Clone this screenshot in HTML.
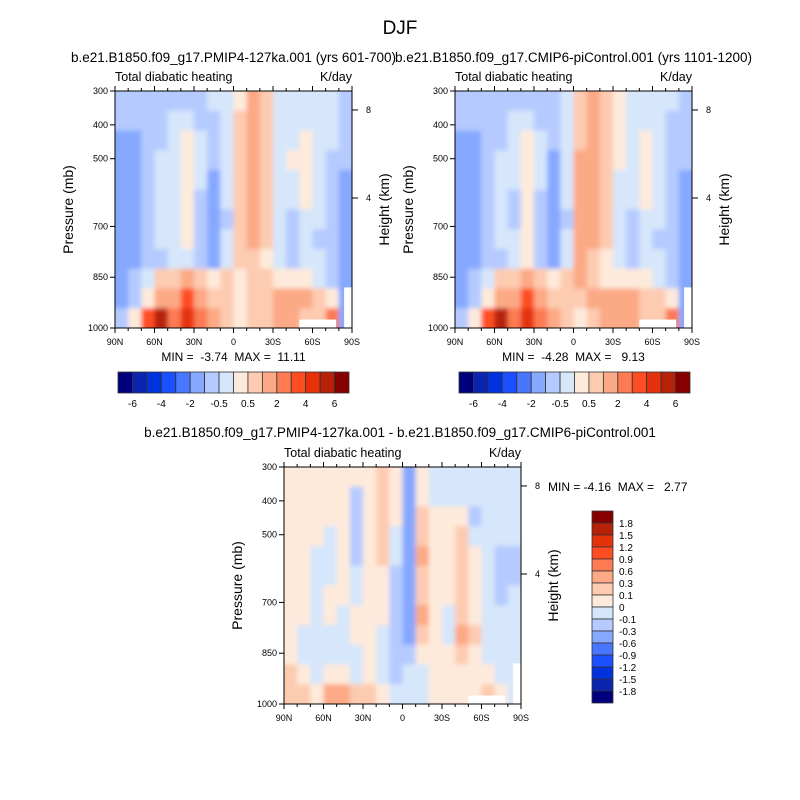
<!DOCTYPE html>
<html><head><meta charset="utf-8"><style>
body{margin:0;background:#fff}
svg{display:block;font-family:"Liberation Sans",sans-serif}
text{white-space:pre}
</style></head><body>
<svg id="fig" width="800" height="800" viewBox="0 0 800 800">
<defs><filter id="soft" x="-5%" y="-5%" width="110%" height="110%"><feGaussianBlur stdDeviation="2.5"/></filter></defs>
<rect width="800" height="800" fill="#fff"/>
<text x="400" y="34" font-size="19" text-anchor="middle">DJF</text>
<g id="panels"></g>
</svg>
<script>
const colors=["#00007f","#0a24b0","#0033dd","#1a50ff","#4876ff","#86a8ff","#b5cbff","#d6e6fb","#feeadb","#fdcbb0","#fca985","#fd7a52","#fe4d22","#e5320a","#b52208","#870000"];
const levelsFull=[-6,-5,-4,-3,-2,-1,-0.5,0,0.5,1,2,3,4,5,6];
const levelsDiff=[-1.8,-1.5,-1.2,-0.9,-0.6,-0.3,-0.1,0,0.1,0.3,0.6,0.9,1.2,1.5,1.8];
const latLabels=["90N","60N","30N","0","30S","60S","90S"];
const pLabels=[300,400,500,700,850,1000];
const hLabels=[8,4];
const hPressure=[356,616];
const fullCbLabels=["-6","-4","-2","-0.5","0.5","2","4","6"];
const diffCbLabels=["1.8","1.5","1.2","0.9","0.6","0.3","0.1","0","-0.1","-0.3","-0.6","-0.9","-1.2","-1.5","-1.8"];

const gridLeft=[
[-0.7,-0.7,-0.7,-0.7,-0.7,-0.7,-0.7,-0.3,-0.3,0.3,1.5,0.7,-0.3,-0.3,-0.3,-0.3,-0.3,-0.7],
[-0.7,-0.7,-0.7,-0.7,-0.3,-0.3,-0.7,-0.7,-0.3,0.7,1.5,0.7,-0.3,-0.3,-0.3,-0.3,-0.3,-0.7],
[-1.5,-1.5,-0.7,-0.7,-0.3,0.3,-0.3,-0.7,-0.3,0.7,1.5,0.7,-0.3,-0.3,0.3,-0.3,-0.3,-0.7],
[-1.5,-1.5,-0.7,-0.3,-0.3,0.3,-0.3,-0.7,-0.3,0.7,1.5,0.7,-0.3,0.3,0.3,-0.3,-0.7,-0.7],
[-1.5,-1.5,-0.7,-0.3,-0.3,0.3,-0.3,-1.5,-0.3,0.7,1.5,0.7,-0.3,-0.3,0.3,-0.3,-0.7,-1.5],
[-1.5,-1.5,-0.7,-0.3,-0.3,0.3,-0.7,-1.5,-0.3,0.7,1.5,0.7,-0.3,-0.3,0.3,-0.3,-0.7,-1.5],
[-1.5,-1.5,-0.7,-0.3,-0.3,0.3,-0.7,-1.5,-0.7,0.7,1.5,0.7,-0.3,-0.7,-0.3,-0.3,-0.7,-1.5],
[-1.5,-1.5,-0.7,-0.3,-0.3,0.3,-0.7,-1.5,-0.3,0.7,1.5,0.7,-0.3,-0.7,-0.3,-0.7,-0.7,-1.5],
[-1.5,-1.5,-0.7,-0.7,-0.3,-0.3,-0.7,-1.5,-0.3,0.7,0.7,0.3,-0.3,-0.7,-0.3,-0.3,-0.7,-1.5],
[-1.5,-0.7,-0.3,0.7,0.7,1.5,0.7,0.3,0.7,0.3,0.7,0.7,0.3,0.3,0.3,-0.3,-0.7,-1.5],
[-1.5,-0.7,0.3,1.5,1.5,3.5,1.5,0.7,0.7,0.3,0.7,0.7,1.5,1.5,1.5,0.7,0.3,-1.5],
[-0.7,0.3,3.5,5.5,2.5,4.5,2.5,1.5,0.7,0.3,0.7,0.7,1.5,1.5,0.7,0.7,2.5,-1.5]];
const gridRight=[
[-0.7,-0.7,-0.7,-0.7,-0.7,-0.7,-0.7,-0.7,-0.3,0.7,1.5,0.7,0.3,-0.3,-0.3,-0.3,-0.3,-0.7],
[-0.7,-0.7,-0.7,-0.7,-0.3,-0.3,-0.7,-0.7,-0.3,0.7,1.5,0.7,0.3,-0.3,-0.3,-0.3,-0.7,-0.7],
[-1.5,-1.5,-0.7,-0.7,-0.3,0.3,-0.3,-0.7,-0.3,0.7,1.5,0.7,0.3,-0.3,0.3,-0.3,-0.7,-0.7],
[-1.5,-1.5,-0.7,-0.3,-0.3,0.3,-0.3,-1.5,-0.3,1.5,1.5,0.7,0.3,-0.3,0.3,-0.3,-0.7,-0.7],
[-1.5,-1.5,-0.7,-0.3,-0.3,0.3,-0.3,-1.5,-0.3,1.5,1.5,0.7,-0.3,-0.3,0.3,-0.3,-0.7,-1.5],
[-1.5,-1.5,-0.7,-0.3,-0.7,0.3,-0.7,-1.5,-0.3,1.5,1.5,0.7,-0.3,-0.3,0.3,-0.3,-0.7,-1.5],
[-1.5,-1.5,-0.7,-0.3,-0.7,0.3,-0.7,-1.5,-0.7,1.5,1.5,0.7,-0.3,-0.7,-0.3,-0.3,-0.7,-1.5],
[-1.5,-1.5,-0.7,-0.3,-0.3,0.3,-0.7,-1.5,-0.3,1.5,1.5,0.7,-0.3,-0.7,-0.3,-0.7,-0.7,-1.5],
[-1.5,-1.5,-0.7,-0.7,-0.3,0.3,-0.7,-1.5,-0.3,1.5,0.7,0.3,-0.3,-0.7,-0.3,-0.3,-0.7,-1.5],
[-1.5,-0.7,-0.3,0.7,0.7,1.5,0.7,0.3,0.7,1.5,0.7,0.3,0.3,0.3,0.3,-0.3,-0.7,-1.5],
[-1.5,-0.7,0.3,1.5,1.5,3.5,1.5,0.7,0.7,0.7,1.5,1.5,1.5,1.5,0.7,0.7,0.3,-1.5],
[-0.7,0.3,3.5,5.5,2.5,4.5,2.5,1.5,0.7,0.3,0.7,1.5,1.5,1.5,0.7,0.7,2.5,-1.5]];
const gridDiff=[
[0.05,0.05,0.05,0.05,0.05,0.05,0.05,0.2,0.05,-0.4,0.05,-0.05,-0.05,-0.05,-0.05,-0.05,-0.05,-0.05],
[0.05,0.05,0.05,0.05,0.05,-0.2,0.05,0.2,0.05,-0.4,0.05,-0.05,-0.05,-0.05,-0.05,-0.05,-0.05,-0.05],
[0.05,0.05,0.05,0.05,0.05,-0.2,0.05,0.2,0.05,-0.4,0.2,0.05,0.05,0.05,-0.2,-0.05,-0.05,-0.05],
[0.05,0.05,0.05,-0.05,0.05,-0.2,0.05,0.2,-0.05,-0.4,0.2,0.05,0.05,0.2,-0.05,-0.05,-0.05,-0.05],
[0.05,0.05,-0.05,-0.05,0.05,-0.2,0.05,0.2,-0.05,-0.4,0.45,0.05,0.05,0.2,0.05,-0.05,-0.2,-0.2],
[0.05,0.05,-0.05,-0.05,0.05,-0.05,0.05,0.05,-0.2,-0.4,0.2,0.05,0.05,0.2,0.05,-0.05,-0.2,-0.2],
[0.05,0.05,-0.05,0.05,0.05,-0.05,0.05,0.05,-0.2,-0.4,0.2,0.05,0.05,0.2,0.05,-0.05,-0.2,-0.05],
[0.05,0.05,-0.05,0.05,-0.05,0.05,0.05,0.05,-0.2,-0.4,0.45,0.05,-0.05,0.2,0.05,-0.05,-0.05,-0.05],
[0.05,-0.05,-0.05,-0.05,-0.05,0.05,0.05,-0.05,-0.2,-0.4,0.2,0.05,-0.05,0.45,0.2,-0.05,-0.05,-0.05],
[0.05,-0.05,-0.05,-0.05,-0.05,-0.05,0.05,-0.05,-0.2,-0.2,0.05,0.05,0.05,0.2,0.05,-0.05,-0.05,-0.05],
[0.2,0.05,-0.05,0.05,0.05,-0.05,0.05,-0.05,-0.2,-0.05,-0.05,0.05,0.05,0.05,0.05,0.05,-0.05,-0.05],
[0.2,0.2,0.05,0.45,0.45,0.2,0.2,0.05,-0.05,-0.05,-0.05,0.05,0.05,0.05,0.05,0.2,0.05,-0.05]];

const NS="http://www.w3.org/2000/svg";
const root=document.getElementById('panels');
const defs=document.querySelector('defs');
let clipId=0;
function mk(tag,attrs,parent,txt){const e=document.createElementNS(NS,tag);for(const k in attrs)e.setAttribute(k,attrs[k]);if(txt!==undefined)e.textContent=txt;(parent||root).appendChild(e);return e;}
function colorFor(v,levels){let i=0;while(i<levels.length&&v>=levels[i])i++;return colors[i];}

function panel(x0,y0,grid,levels,subtitle,minmax,name){
  const W=237,H=237;
  const g=mk('g',{});
  
  
  const lat=d=>x0+(90-d)/180*W;
  const pres=p=>y0+(p-300)/700*H;
  if(subtitle){const t=mk('text',{x:x0+W/2,y:y0-29,'font-size':13.5,'text-anchor':'middle'},g,subtitle);}
  const a=mk('text',{x:x0,y:y0-10,'font-size':12.5},g,'Total diabatic heating');
  const b=mk('text',{x:x0+W,y:y0-10,'font-size':12.5,'text-anchor':'end'},g,'K/day');
  const cid='clip'+(clipId++);
  const cp=mk('clipPath',{id:cid},defs);mk('rect',{x:x0,y:y0,width:W,height:H},cp);
  const outer=mk('g',{'clip-path':`url(#${cid})`},g);
  
  
  const cells=mk('g',{filter:'url(#soft)'},outer);
  const nr=grid.length,nc=grid[0].length;
  for(let r=0;r<nr;r++)for(let c=0;c<nc;c++){
    const la=90-c*180/nc, lb=90-(c+1)*180/nc;
    const pa=300+r*700/nr, pb=300+(r+1)*700/nr;
    let x=lat(la),y=pres(pa),w=lat(lb)-x+0.6,h=pres(pb)-y+0.6;
    if(c===0){x-=6;w+=6;} if(c===nc-1)w+=6; if(r===0){y-=6;h+=6;} if(r===nr-1)h+=6;
    const cell=mk('rect',{x:x,y:y,width:w,height:h,fill:colorFor(grid[r][c],levels)},cells);
    
    
  }
  const m=mk('rect',{x:lat(-50),y:pres(975),width:lat(-78)-lat(-50),height:pres(1000)-pres(975),fill:'#fff'},g);
  
  const m2=mk('rect',{x:lat(-84),y:pres(880),width:lat(-90)-lat(-84),height:pres(1000)-pres(880),fill:'#fff'},g);
  
  const fr=mk('rect',{x:x0,y:y0,width:W,height:H,fill:'none',stroke:'#000','stroke-width':1},g);
  
  latLabels.forEach((l,i)=>{const x=x0+i*W/6;
    mk('line',{x1:x,x2:x,y1:y0+H,y2:y0+H+5,stroke:'#000'},g);mk('line',{x1:x,x2:x,y1:y0,y2:y0-5,stroke:'#000'},g);
    const t=mk('text',{x:x,y:y0+H+17,'font-size':9,'text-anchor':'middle'},g,l);});
  for(let i=0;i<=18;i++){const x=x0+i*W/18;mk('line',{x1:x,x2:x,y1:y0+H,y2:y0+H+3,stroke:'#000'},g);mk('line',{x1:x,x2:x,y1:y0,y2:y0-3,stroke:'#000'},g);}
  pLabels.forEach(p=>{const y=pres(p);mk('line',{x1:x0-5,x2:x0,y1:y,y2:y,stroke:'#000'},g);
    const t=mk('text',{x:x0-7,y:y+3,'font-size':9,'text-anchor':'end'},g,String(p));});
  hLabels.forEach((h,i)=>{const y=pres(hPressure[i]);mk('line',{x1:x0+W,x2:x0+W+6,y1:y,y2:y,stroke:'#000'},g);
    const t=mk('text',{x:x0+W+14,y:y+3,'font-size':9},g,String(h));});
  const yt=mk('text',{x:0,y:0,'font-size':14,'text-anchor':'middle',transform:`translate(${x0-42},${y0+H/2}) rotate(-90)`},g,'Pressure (mb)');
  const ht=mk('text',{x:0,y:0,'font-size':14,'text-anchor':'middle',transform:`translate(${x0+W+37},${y0+H/2}) rotate(-90)`},g,'Height (km)');
  if(minmax){const t=mk('text',{x:x0+W/2,y:y0+H+33,'font-size':12,'text-anchor':'middle'},g,minmax);}
}
function hbar(x0,y0,name){
  const g=mk('g',{});
  const w=231/16;
  colors.forEach((c,i)=>{const r=mk('rect',{x:x0+i*w,y:y0,width:w,height:21,fill:c,stroke:'#333','stroke-width':0.8},g);});
  fullCbLabels.forEach((l,i)=>{const t=mk('text',{x:x0+(1+i*2)*w,y:y0+35,'font-size':10,'text-anchor':'middle'},g,l);});
}
panel(115,91,gridLeft,levelsFull,'b.e21.B1850.f09_g17.PMIP4-127ka.001 (yrs 601-700)','MIN =  -3.74  MAX =  11.11','panel-127ka');
panel(455,91,gridRight,levelsFull,'b.e21.B1850.f09_g17.CMIP6-piControl.001 (yrs 1101-1200)','MIN =  -4.28  MAX =   9.13','panel-picontrol');
hbar(118,372,'colorbar-top-left');
hbar(459,372,'colorbar-top-right');
{const t=mk('text',{x:400,y:437,'font-size':13.5,'text-anchor':'middle'},root,'b.e21.B1850.f09_g17.PMIP4-127ka.001 - b.e21.B1850.f09_g17.CMIP6-piControl.001');}
panel(284,467,gridDiff,levelsDiff,null,null,'panel-difference');
{const t=mk('text',{x:548,y:491,'font-size':12},root,'MIN = -4.16  MAX =   2.77');}
{const g=mk('g',{});
 const h=192/16;
 colors.slice().reverse().forEach((c,i)=>{const r=mk('rect',{x:592,y:511+i*h,width:21,height:h,fill:c,stroke:'#333','stroke-width':0.8},g);});
 diffCbLabels.forEach((l,i)=>{const t=mk('text',{x:619,y:511+(i+1)*h+4,'font-size':10},g,l);});}
</script>
</body></html>
